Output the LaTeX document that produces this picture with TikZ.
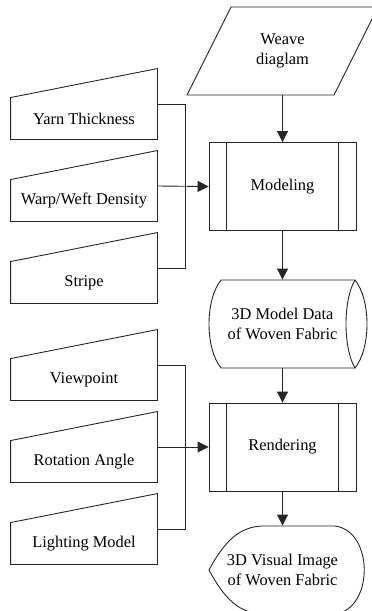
\documentclass[tikz,border=0pt]{standalone}
\usepackage{fontspec}
\setmainfont{Liberation Serif}
\usetikzlibrary{arrows.meta}
\begin{document}
\begin{tikzpicture}[x=1pt,y=-1pt,
  line width=0.9pt,
  every node/.style={font=\fontsize{16.4}{20.5}\selectfont, align=center, inner sep=0pt},
  outline/.style={draw=black!85},
  wire/.style={draw=black!85},
  flow/.style={draw=black!85, -{Triangle[length=11pt,width=11pt]}},
  procbox/.style={draw=black!85, minimum width=147pt, minimum height=88pt},
  manin/.style={minimum width=146pt, minimum height=41pt},
  bigshape/.style={minimum width=147pt, minimum height=88pt}]
\clip (0,0) rectangle (372,611);

% ---- right column ----
\node[bigshape] (weave) at (282.5,51) {Weave\\diaglam};
\draw[outline] (231,7) -- (378,7) -- (334,95) -- (187,95) -- cycle;

\node[procbox] (model) at (282.5,186.5) {Modeling};
\draw[outline] ([xshift=18pt]model.north west) -- ([xshift=18pt]model.south west);
\draw[outline] ([xshift=-18pt]model.north east) -- ([xshift=-18pt]model.south east);

\node[bigshape] (data) at (282.5,324) {3D Model Data\\of Woven Fabric};
\draw[outline] (355,280) -- (221,280) .. controls (205,300) and (205,348) .. (221,368) -- (355,368);
\draw[outline] (355,280) .. controls (371,300) and (371,348) .. (355,368)
               .. controls (343,348) and (343,300) .. (355,280);

\node[procbox] (render) at (282.5,447) {Rendering};
\draw[outline] ([xshift=18pt]render.north west) -- ([xshift=18pt]render.south west);
\draw[outline] ([xshift=-18pt]render.north east) -- ([xshift=-18pt]render.south east);

\node[bigshape] (disp) at (282.5,570) {3D Visual Image\\of Woven Fabric};
\draw[outline] (262,526) -- (335,526) .. controls (374,531) and (374,609) .. (335,614)
               -- (262,614) .. controls (240,613) and (225,600) .. (209,570)
               .. controls (225,540) and (240,527) .. (262,526);

% ---- left column: manual inputs ----
\node[manin] (yarn)   at (84,118.5) {Yarn Thickness};
\node[manin] (warp)   at (84,200.5) {Warp/Weft Density};
\node[manin] (stripe) at (84,282.5) {Stripe};
\node[manin] (view)   at (84,379.5) {Viewpoint};
\node[manin] (rot)    at (84,461.5) {Rotation Angle};
\node[manin] (light)  at (84,543.5) {Lighting Model};
\foreach \n in {yarn,warp,stripe,view,rot,light}
  \draw[outline] (\n.north west) -- ([yshift=29pt]\n.north east) -- (\n.south east) -- (\n.south west) -- cycle;

% ---- connectors ----
\draw[flow] (weave.south) -- (model.north);
\draw[flow] (model.south) -- (data.north);
\draw[flow] (data.south) -- (render.north);
\draw[flow] (render.south) -- (disp.north);

\draw[wire] ([yshift=14.5pt]yarn.east) -- ++(28,0) |- ([yshift=14.5pt]stripe.east);
\draw[flow] ([yshift=14.5pt]warp.east) -- (model.west);
\draw[wire] ([yshift=14.5pt]view.east) -- ++(28,0) |- ([yshift=14.5pt]light.east);
\draw[flow] ([yshift=14.5pt]rot.east) -- (render.west);
\end{tikzpicture}
\end{document}
